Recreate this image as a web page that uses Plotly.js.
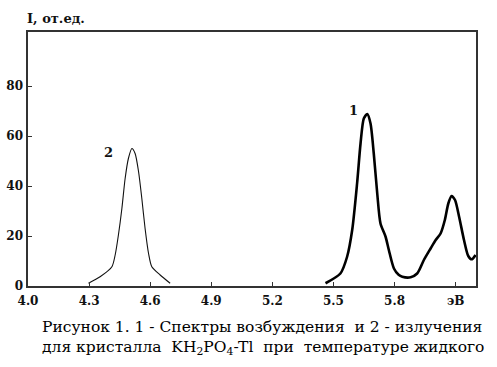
<!DOCTYPE html>
<html>
<head>
<meta charset="utf-8">
<script src="https://cdn.plot.ly/plotly-3.0.1.min.js"></script>
<style>html,body{margin:0;padding:0;background:#fff}#chart{width:497px;height:367px}</style>
</head>
<body>
<div id="chart"></div>
<script>
// Curve 1 – excitation spectrum (thick)
const x1 = [5.461, 5.534, 5.567, 5.592, 5.616, 5.633, 5.649, 5.666, 5.682, 5.698, 5.715, 5.731, 5.756, 5.772, 5.797, 5.820, 5.838, 5.879, 5.911, 5.944, 5.977, 6.002, 6.026, 6.047, 6.064, 6.080, 6.097, 6.117, 6.141, 6.162, 6.179, 6.198];
const y1 = [1.1, 5.0, 11.7, 22.4, 41.0, 57.0, 67.0, 68.8, 65.0, 53.0, 37.0, 25.0, 19.7, 14.4, 7.0, 4.5, 3.7, 3.5, 5.0, 10.4, 15.0, 18.4, 21.0, 26.4, 33.0, 36.0, 34.4, 27.7, 18.4, 12.0, 10.7, 12.4];
// Curve 2 – emission spectrum (thin)
const x2 = [4.297, 4.354, 4.412, 4.428, 4.444, 4.461, 4.477, 4.493, 4.510, 4.526, 4.543, 4.559, 4.575, 4.592, 4.608, 4.649, 4.698];
const y2 = [1.1, 3.7, 7.7, 12.4, 20.4, 31.0, 43.0, 51.0, 55.0, 53.0, 45.7, 35.0, 23.0, 13.0, 7.7, 4.4, 1.1];

const xTickVals = [4.0, 4.3, 4.6, 4.9, 5.2, 5.5, 5.8, 6.1];
const xTickText = ['4.0', '4.3', '4.6', '4.9', '5.2', '5.5', '5.8', 'эВ'];
const yTickVals = [0, 20, 40, 60, 80];
const yTickText = ['0', '20', '40', '60', '80'];

const yTitle = 'I, от.ед.';
const captionLine1 = 'Рисунок 1. 1 - Спектры возбуждения \u00A0и 2 - излучения';
const captionLine2 = 'для кристалла \u00A0KH<sub>2</sub>PO<sub>4</sub>-Tl \u00A0при \u00A0температуре жидкого';

const serif = 'DejaVu Serif';

const traces = [
  {x: x1, y: y1, mode: 'lines', line: {color: '#000', width: 2.6, shape: 'spline', smoothing: 0.7}, hoverinfo: 'skip'},
  {x: x2, y: y2, mode: 'lines', line: {color: '#111', width: 1.1, shape: 'spline', smoothing: 0.7}, hoverinfo: 'skip'}
];

const axisCommon = {
  showgrid: false, zeroline: false, showline: true, mirror: true,
  linecolor: '#333', linewidth: 1.6,
  ticks: 'inside', ticklen: 4, tickwidth: 1, tickcolor: '#333',
  tickfont: {family: serif, size: 12, color: '#111', weight: 'bold'}
};

const layout = {
  width: 497, height: 367,
  margin: {l: 28, r: 21, t: 32, b: 81},
  paper_bgcolor: '#fff', plot_bgcolor: '#fff',
  showlegend: false,
  font: {family: serif},
  xaxis: Object.assign({}, axisCommon, {range: [4.0, 6.2], tickmode: 'array', tickvals: xTickVals, ticktext: xTickText, ticklabelstandoff: 3}),
  yaxis: Object.assign({}, axisCommon, {range: [0, 101.6], tickmode: 'array', tickvals: yTickVals, ticktext: yTickText, ticklabelstandoff: 1}),
  annotations: [
    {text: yTitle, xref: 'paper', yref: 'paper', x: -0.007, y: 1.055, xanchor: 'left', yanchor: 'middle', showarrow: false,
     font: {family: serif, size: 13, color: '#111', weight: 'bold'}},
    {text: '1', xref: 'x', yref: 'y', x: 5.598, y: 70.4, xanchor: 'center', yanchor: 'middle', showarrow: false,
     font: {family: serif, size: 13, color: '#111', weight: 'bold'}},
    {text: '2', xref: 'x', yref: 'y', x: 4.393, y: 53.6, xanchor: 'center', yanchor: 'middle', showarrow: false,
     font: {family: serif, size: 13, color: '#111', weight: 'bold'}},
    {text: captionLine1, xref: 'paper', yref: 'paper', x: 0.027, y: -0.16, xanchor: 'left', yanchor: 'middle', showarrow: false,
     font: {family: serif, size: 15.5, color: '#000'}},
    {text: captionLine2, xref: 'paper', yref: 'paper', x: 0.027, y: -0.243, xanchor: 'left', yanchor: 'middle', showarrow: false,
     font: {family: serif, size: 15.5, color: '#000'}}
  ]
};

Plotly.newPlot('chart', traces, layout, {staticPlot: true, displayModeBar: false});
</script>
</body>
</html>
